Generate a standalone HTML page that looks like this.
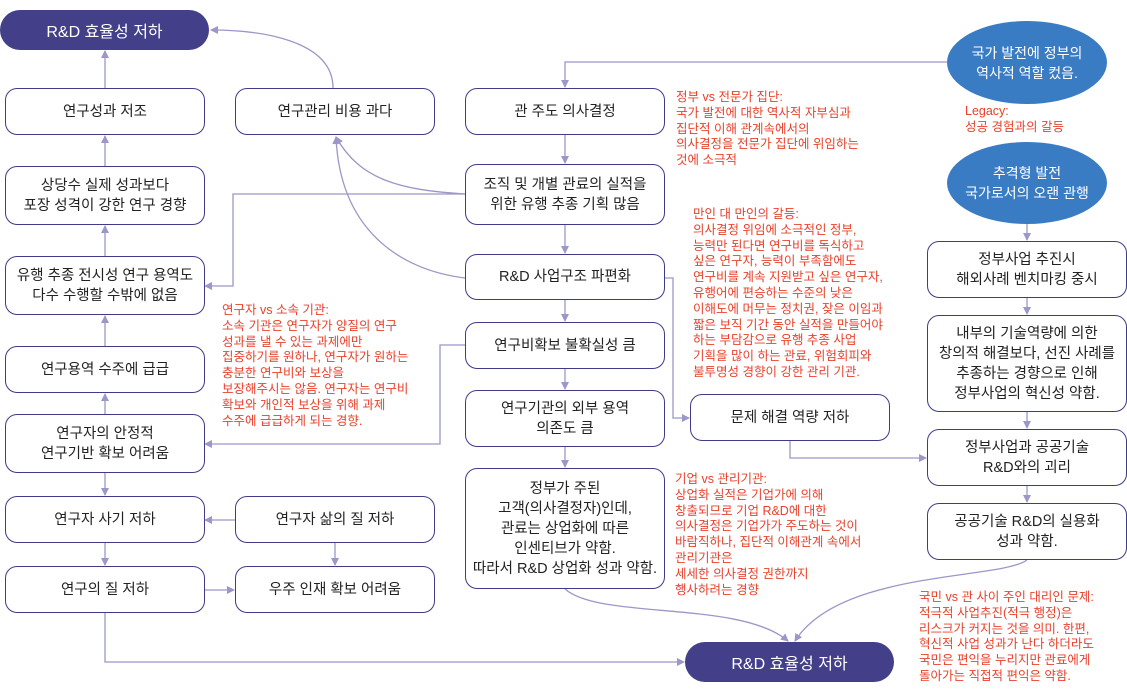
<!DOCTYPE html>
<html><head><meta charset="utf-8"><style>
body{margin:0;width:1127px;height:695px;background:#fff;position:relative;overflow:hidden;font-family:"Liberation Sans","Noto Sans CJK KR",sans-serif}
.b{position:absolute;box-sizing:border-box;border:1.5px solid #3f3b86;border-radius:12px;background:#fff;display:flex;align-items:center;justify-content:center;text-align:center;font-size:14.5px;line-height:20px;color:#222}
.p{position:absolute;background:#433f88;color:#fff;border-radius:20px;display:flex;align-items:center;justify-content:center;font-size:16px;font-weight:normal}
.e{position:absolute;background:#3a7cc4;color:#fff;border-radius:50%;display:flex;align-items:center;justify-content:center;text-align:center;font-size:14px;line-height:20px}
.r{position:absolute;color:#e9412c;font-size:12.5px;line-height:15.8px;white-space:nowrap}
svg{position:absolute;left:0;top:0}
</style></head><body>
<svg width="1127" height="695">
<defs><marker id="a" markerWidth="8" markerHeight="8" refX="7" refY="4" orient="auto" markerUnits="userSpaceOnUse"><path d="M0,0 L8,4 L0,8 z" fill="#9b97c8"/></marker></defs>
<g stroke="#9b97c8" stroke-width="1.3" fill="none" marker-end="url(#a)">
<path d="M105,88 V51"/><path d="M105,166 V136"/><path d="M105,256 V226"/><path d="M105,346 V316"/><path d="M105,414 V394"/>
<path d="M105,473 V495"/><path d="M105,543 V565"/><path d="M235,520 H205"/><path d="M335,543 V565"/><path d="M204,590 H234"/>
<path d="M105,613 V662 H684"/>
<path d="M333,88 C333,40 260,30 211,30"/>
<path d="M947,62 H565 V87"/>
<path d="M565,135 V163"/><path d="M565,225 V253"/><path d="M565,300 V321"/><path d="M565,369 V389"/><path d="M565,447 V467"/>
<path d="M465,194 H233 V286 H205"/>
<path d="M465,194 C400,190 360,180 336,137"/>
<path d="M465,278 C400,270 340,230 336,137"/>
<path d="M465,345 H440 V444 H205"/>
<path d="M664,278 H673 V418 H689"/>
<path d="M790,441 V458 H926"/>
<path d="M565,589 C600,620 740,600 788,641"/>
<path d="M1027,560 C1000,580 840,570 795,641"/>
<path d="M1027,224 V240"/><path d="M1027,298 V314"/><path d="M1027,412 V428"/><path d="M1027,486 V502"/>
</g></svg>
<div class="p" style="left:0;top:10px;width:209px;height:40px">R&amp;D 효율성 저하</div>
<div class="p" style="left:685px;top:642px;width:209px;height:40px">R&amp;D 효율성 저하</div>
<div class="b" style="left:5px;top:88px;width:200px;height:47px">연구성과 저조</div>
<div class="b" style="left:5px;top:166px;width:200px;height:59px">상당수 실제 성과보다<br>포장 성격이 강한 연구 경향</div>
<div class="b" style="left:5px;top:256px;width:200px;height:59px">유행 추종 전시성 연구 용역도<br>다수 수행할 수밖에 없음</div>
<div class="b" style="left:5px;top:346px;width:200px;height:47px">연구용역 수주에 급급</div>
<div class="b" style="left:5px;top:414px;width:200px;height:59px">연구자의 안정적<br>연구기반 확보 어려움</div>
<div class="b" style="left:5px;top:496px;width:200px;height:47px">연구자 사기 저하</div>
<div class="b" style="left:5px;top:566px;width:200px;height:47px">연구의 질 저하</div>
<div class="b" style="left:235px;top:88px;width:200px;height:47px">연구관리 비용 과다</div>
<div class="b" style="left:235px;top:496px;width:200px;height:47px">연구자 삶의 질 저하</div>
<div class="b" style="left:235px;top:566px;width:200px;height:47px">우주 인재 확보 어려움</div>
<div class="b" style="left:465px;top:88px;width:200px;height:47px">관 주도 의사결정</div>
<div class="b" style="left:465px;top:164px;width:200px;height:61px">조직 및 개별 관료의 실적을<br>위한 유행 추종 기획 많음</div>
<div class="b" style="left:465px;top:254px;width:200px;height:46px">R&amp;D 사업구조 파편화</div>
<div class="b" style="left:465px;top:322px;width:200px;height:47px">연구비확보 불확실성 큼</div>
<div class="b" style="left:465px;top:390px;width:200px;height:57px">연구기관의 외부 용역<br>의존도 큼</div>
<div class="b" style="left:465px;top:468px;width:200px;height:121px">정부가 주된<br>고객(의사결정자)인데,<br>관료는 상업화에 따른<br>인센티브가 약함.<br>따라서 R&amp;D 상업화 성과 약함.</div>
<div class="b" style="left:690px;top:394px;width:200px;height:47px">문제 해결 역량 저하</div>
<div class="e" style="left:947px;top:21px;width:160px;height:83px">국가 발전에 정부의<br>역사적 역할 컸음.</div>
<div class="e" style="left:947px;top:142px;width:160px;height:82px">추격형 발전<br>국가로서의 오랜 관행</div>
<div class="b" style="left:927px;top:241px;width:200px;height:57px">정부사업 추진시<br>해외사례 벤치마킹 중시</div>
<div class="b" style="left:927px;top:315px;width:200px;height:97px">내부의 기술역량에 의한<br>창의적 해결보다, 선진 사례를<br>추종하는 경향으로 인해<br>정부사업의 혁신성 약함.</div>
<div class="b" style="left:927px;top:429px;width:200px;height:57px">정부사업과 공공기술<br>R&amp;D와의 괴리</div>
<div class="b" style="left:927px;top:503px;width:200px;height:57px">공공기술 R&amp;D의 실용화<br>성과 약함.</div>
<div class="r" style="left:676px;top:90px">정부 vs 전문가 집단:<br>국가 발전에 대한 역사적 자부심과<br>집단적 이해 관계속에서의<br>의사결정을 전문가 집단에 위임하는<br>것에 소극적</div>
<div class="r" style="left:693px;top:207px">만인 대 만인의 갈등:<br>의사결정 위임에 소극적인 정부,<br>능력만 된다면 연구비를 독식하고<br>싶은 연구자, 능력이 부족함에도<br>연구비를 계속 지원받고 싶은 연구자,<br>유행어에 편승하는 수준의 낮은<br>이해도에 머무는 정치권, 잦은 이임과<br>짧은 보직 기간 동안 실적을 만들어야<br>하는 부담감으로 유행 추종 사업<br>기획을 많이 하는 관료, 위험회피와<br>불투명성 경향이 강한 관리 기관.</div>
<div class="r" style="left:222px;top:303px">연구자 vs 소속 기관:<br>소속 기관은 연구자가 양질의 연구<br>성과를 낼 수 있는 과제에만<br>집중하기를 원하나, 연구자가 원하는<br>충분한 연구비와 보상을<br>보장해주시는 않음. 연구자는 연구비<br>확보와 개인적 보상을 위해 과제<br>수주에 급급하게 되는 경향.</div>
<div class="r" style="left:675px;top:472px">기업 vs 관리기관:<br>상업화 실적은 기업가에 의해<br>창출되므로 기업 R&amp;D에 대한<br>의사결정은 기업가가 주도하는 것이<br>바람직하나, 집단적 이해관계 속에서<br>관리기관은<br>세세한 의사결정 권한까지<br>행사하려는 경향</div>
<div class="r" style="left:965px;top:104px">Legacy:<br>성공 경험과의 갈등</div>
<div class="r" style="left:919px;top:590px">국민 vs 관 사이 주인 대리인 문제:<br>적극적 사업추진(적극 행정)은<br>리스크가 커지는 것을 의미. 한편,<br>혁신적 사업 성과가 난다 하더라도<br>국민은 편익을 누리지만 관료에게<br>돌아가는 직접적 편익은 약함.</div>
</body></html>
